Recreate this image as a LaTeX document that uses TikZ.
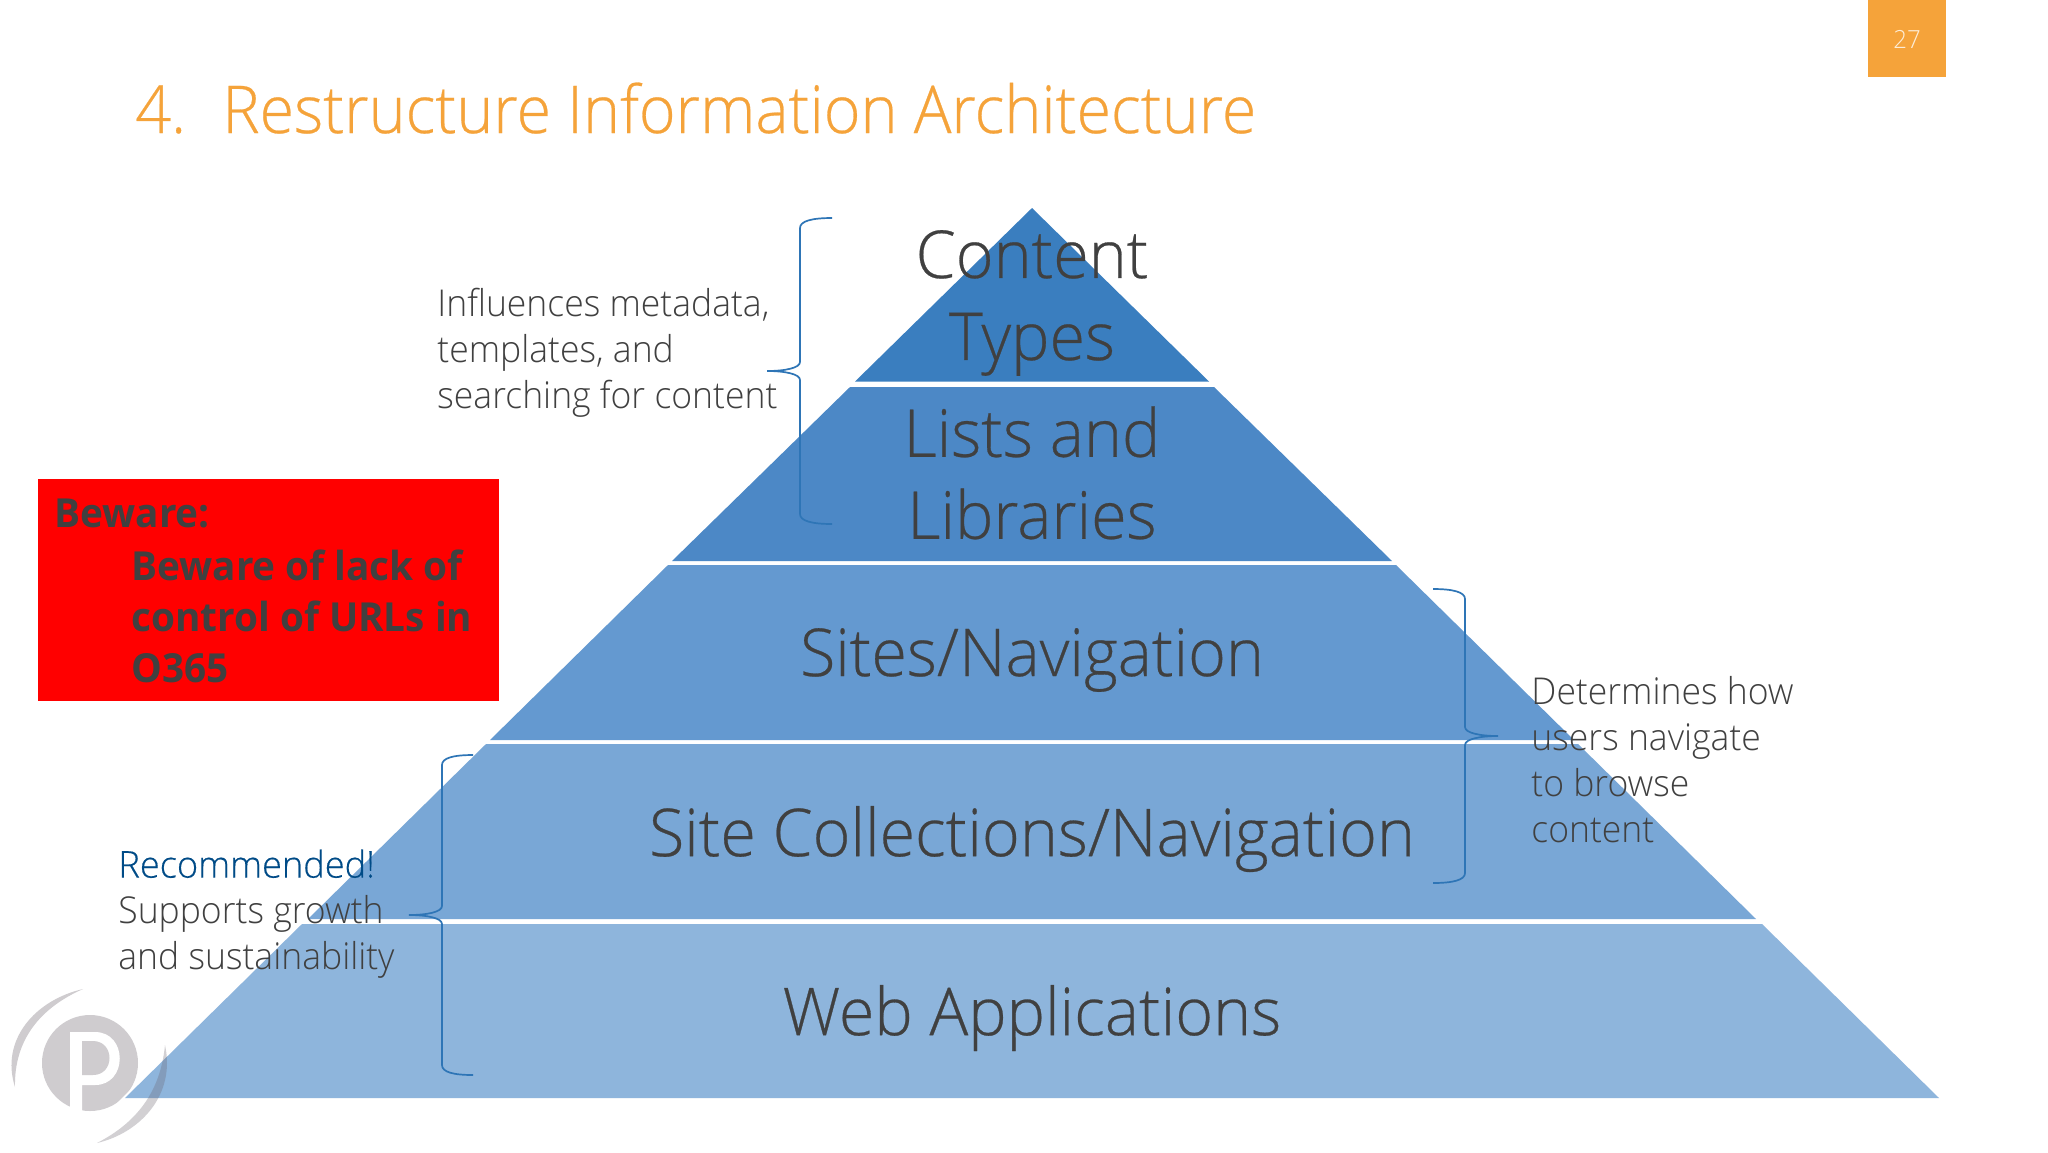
\documentclass[tikz,border=0pt]{standalone}
\usepackage{fontspec}
\setmainfont{Open Sans}[FakeStretch=0.968]
\newfontfamily\lightfont{Open Sans Light}[FakeStretch=0.96]
\newfontfamily\tierfont{Open Sans Light}[FakeStretch=0.978,FakeBold=0.4]
\newfontfamily\titlefont{Open Sans Light}[FakeStretch=0.95,FakeBold=0.4]
\definecolor{titleorange}{HTML}{F5A33A}
\definecolor{darktext}{HTML}{404040}
\definecolor{bracelne}{HTML}{2E75B6}
\definecolor{recblue}{HTML}{004B87}
\definecolor{tierA}{HTML}{3A7EBF}
\definecolor{tierB}{HTML}{4C88C6}
\definecolor{tierC}{HTML}{6499D0}
\definecolor{tierD}{HTML}{79A7D6}
\definecolor{tierE}{HTML}{8EB5DC}
\definecolor{logogray}{HTML}{CFCCCF}
\definecolor{logoshade}{HTML}{6A6570}
\tikzset{
  tiertext/.style={font=\tierfont\fontsize{33}{41}\selectfont, text=darktext, align=center, anchor=center, inner sep=0pt},
  sidetext/.style={font=\lightfont\fontsize{18.5}{23}\selectfont, text=darktext, align=left, anchor=west, inner sep=0pt},
  bracket/.style={draw=bracelne, line width=0.85pt}
}
\begin{document}
\begin{tikzpicture}[x=0.5pt,y=-0.5pt]
\useasboundingbox (0,0) rectangle (2048,1152);
\fill[white] (0,0) rectangle (2048,1152);
\fill[logogray] (90,1063) circle (48);
\fill[white] (70,1113) -- (70,1032) -- (95,1032) .. controls (128,1032) and (128,1085) .. (95,1085) -- (82,1085) -- (82,1113) -- cycle;
\fill[logogray] (82,1041) -- (93,1041) .. controls (115,1041) and (115,1075) .. (93,1075) -- (82,1075) -- cycle;
\fill[logogray] (83,989) .. controls (35,1000) and (0,1040) .. (15,1087) .. controls (14,1040) and (40,1008) .. (83,989) -- cycle;
\fill[white] (116,1104) -- (170,1050) -- (170,1104) -- cycle;
\fill[tierA] (1032,208) -- (1209,381.5) -- (855,381.5) -- cycle;
\fill[tierB] (850,387) -- (1214,387) -- (1392,561) -- (672,561) -- cycle;
\fill[tierC] (668,565) -- (1396,565) -- (1574,740) -- (490,740) -- cycle;
\fill[tierD] (486,744) -- (1578,744) -- (1756,919) -- (308,919) -- cycle;
\fill[tierE] (302,924) -- (1762,924) -- (1939,1098) -- (125,1098) -- cycle;
\fill[logoshade, opacity=0.3] (165,1045) .. controls (176,1095) and (140,1133) .. (97,1143) .. controls (130,1126) and (160,1098) .. (165,1045) -- cycle;
\fill[titleorange] (1868,0) rectangle (1946,77);
\node[font=\lightfont\fontsize{12.5}{15}\selectfont, text=white!80!titleorange] (pagenum) at (1907,39) {27};
\node[font=\titlefont\fontsize{33}{40}\selectfont, text=titleorange, anchor=base west, inner sep=0pt] (title) at (135,133) {4.\hspace{0.55em}Restructure Information Architecture};
\node[tiertext] (types) at (1032,303) {Content\\Types};
\node[tiertext] (lists) at (1032,473) {Lists and\\Libraries};
\node[tiertext] (sites) at (1032,660) {Sites/Navigation};
\node[tiertext] (collections) at (1032,839) {Site Collections/Navigation};
\node[tiertext] (webapps) at (1032,1018) {Web Applications};
\node[sidetext] (influences) at (437,353) {Influences metadata,\\templates, and\\searching for content};
\node[sidetext] (determines) at (1531,760) {Determines how\\users navigate\\to browse\\content};
\node[sidetext] (recommended) at (118,914) {\textcolor{recblue}{\tierfont Recommended!}\\Supports growth\\and sustainability};
\node[fill=red, minimum width=230.5pt, minimum height=111pt, inner sep=0pt] (beware) at (268.5,590) {};
\node[font=\fontsize{20}{25.5}\selectfont\bfseries, text=darktext, anchor=base west, inner sep=0pt] (bewarehead) at (54,527) {Beware:};
\node[font=\fontsize{20}{25.5}\selectfont\bfseries, text=darktext, align=left, anchor=west, inner sep=0pt] (bewaretext) at (131,616) {Beware of lack of\\control of URLs in\\O365};
\draw[bracket] (832,218) .. controls (812,218) and (800,221) .. (800,228) -- (800,362) .. controls (800,368) and (785,371) .. (767,371) .. controls (785,371) and (800,374) .. (800,380) -- (800,514) .. controls (800,521) and (812,524) .. (832,524);
\draw[bracket] (1433,589) .. controls (1453,589) and (1465,592) .. (1465,599) -- (1465,727) .. controls (1465,733) and (1480,736) .. (1498,736) .. controls (1480,736) and (1465,739) .. (1465,745) -- (1465,873) .. controls (1465,880) and (1453,883) .. (1433,883);
\draw[bracket] (473,755) .. controls (453,755) and (442,758) .. (442,765) -- (442,906) .. controls (442,912) and (427,915) .. (409,915) .. controls (427,915) and (442,918) .. (442,924) -- (442,1065) .. controls (442,1072) and (453,1075) .. (473,1075);
\end{tikzpicture}
\end{document}
